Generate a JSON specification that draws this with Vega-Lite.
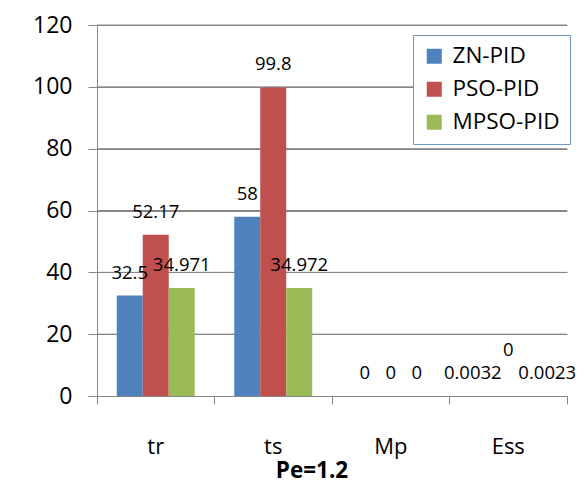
{
  "$schema": "https://vega.github.io/schema/vega-lite/v6.json",
  "width": 470,
  "height": 371,
  "autosize": {"type": "none"},
  "padding": {"left": 97, "top": 25, "right": 17, "bottom": 87},
  "background": "white",
  "title": {"text": "Pe=1.2", "orient": "bottom", "anchor": "middle", "fontSize": 22.5, "fontWeight": "bold", "font": "Open Sans", "color": "black", "dx": -20, "offset": 3},
  "datasets": {
    "bars": [
      {"metric": "tr", "method": "ZN-PID", "value": 32.5, "region": "main"},
      {"metric": "tr", "method": "PSO-PID", "value": 52.17, "region": "main"},
      {"metric": "tr", "method": "MPSO-PID", "value": 34.971, "region": "main"},
      {"metric": "ts", "method": "ZN-PID", "value": 58, "region": "main"},
      {"metric": "ts", "method": "PSO-PID", "value": 99.8, "region": "main"},
      {"metric": "ts", "method": "MPSO-PID", "value": 34.972, "region": "main"},
      {"metric": "Mp", "method": "ZN-PID", "value": 0, "region": "main"},
      {"metric": "Mp", "method": "PSO-PID", "value": 0, "region": "main"},
      {"metric": "Mp", "method": "MPSO-PID", "value": 0, "region": "main"},
      {"metric": "Ess", "method": "ZN-PID", "value": 0.0032, "region": "left"},
      {"metric": "Ess", "method": "PSO-PID", "value": 0, "region": "up"},
      {"metric": "Ess", "method": "MPSO-PID", "value": 0.0023, "region": "right"}
    ],
    "gridlines": [{"value": 20}, {"value": 40}, {"value": 60}, {"value": 80}, {"value": 100}, {"value": 120}]
  },
  "encoding": {
    "y": {"field": "value", "type": "quantitative", "scale": {"domain": [0, 120], "nice": false},
      "axis": {"values": [0, 20, 40, 60, 80, 100, 120], "title": null, "grid": true, "gridColor": "#868686", "domainColor": "#868686", "tickColor": "#868686", "tickSize": 9, "labelFontSize": 23, "labelFont": "Open Sans", "labelColor": "black", "labelPadding": 16}}
  },
  "layer": [
    {
      "data": {"name": "gridlines"},
      "mark": {"type": "rule", "color": "#868686", "strokeWidth": 1},
      "encoding": {}
    },
    {
      "data": {"name": "bars"},
      "encoding": {
        "x": {"field": "metric", "type": "nominal", "sort": ["tr", "ts", "Mp", "Ess"], "scale": {"paddingInner": 0, "paddingOuter": 0},
          "axis": {"orient": "bottom", "title": null, "labelAngle": 0, "grid": false, "ticks": true, "bandPosition": 1, "tickExtra": true, "tickSize": 8, "tickColor": "#868686", "domainColor": "#868686", "labelFontSize": 22, "labelFont": "Open Sans", "labelColor": "black", "labelPadding": 32}},
        "xOffset": {"field": "method", "type": "nominal", "sort": ["ZN-PID", "PSO-PID", "MPSO-PID"], "scale": {"paddingInner": 0, "paddingOuter": 0.76}}
      },
      "layer": [
        {
          "mark": {"type": "bar"},
          "encoding": {
            "color": {"field": "method", "type": "nominal", "sort": ["ZN-PID", "PSO-PID", "MPSO-PID"],
              "scale": {"domain": ["ZN-PID", "PSO-PID", "MPSO-PID"], "range": ["#4F81BD", "#C0504D", "#9BBB59"]},
              "legend": {"title": null, "orient": "none", "legendX": 316, "legendY": 10, "symbolType": "square", "symbolSize": 225, "symbolStrokeWidth": 0, "labelFontSize": 22.5, "labelFont": "Open Sans", "labelColor": "black", "labelOffset": 7, "rowPadding": 10, "padding": 10, "fillColor": "white", "strokeColor": "#6A95C8"}}
          }
        },
        {
          "transform": [{"filter": "datum.region === 'main'"}],
          "mark": {"type": "text", "dy": -23, "baseline": "middle", "fontSize": 18.5, "font": "Open Sans", "color": "black"},
          "encoding": {"text": {"field": "value", "type": "nominal"}}
        },
        {
          "transform": [{"filter": "datum.region === 'left'"}],
          "mark": {"type": "text", "dy": -23, "dx": -9.5, "baseline": "middle", "fontSize": 18.5, "font": "Open Sans", "color": "black"},
          "encoding": {"text": {"field": "value", "type": "nominal"}}
        },
        {
          "transform": [{"filter": "datum.region === 'right'"}],
          "mark": {"type": "text", "dy": -23, "dx": 13, "baseline": "middle", "fontSize": 18.5, "font": "Open Sans", "color": "black"},
          "encoding": {"text": {"field": "value", "type": "nominal"}}
        },
        {
          "transform": [{"filter": "datum.region === 'up'"}],
          "mark": {"type": "text", "dy": -46, "baseline": "middle", "fontSize": 18.5, "font": "Open Sans", "color": "black"},
          "encoding": {"text": {"field": "value", "type": "nominal"}}
        }
      ]
    }
  ],
  "config": {"view": {"stroke": null}}
}
